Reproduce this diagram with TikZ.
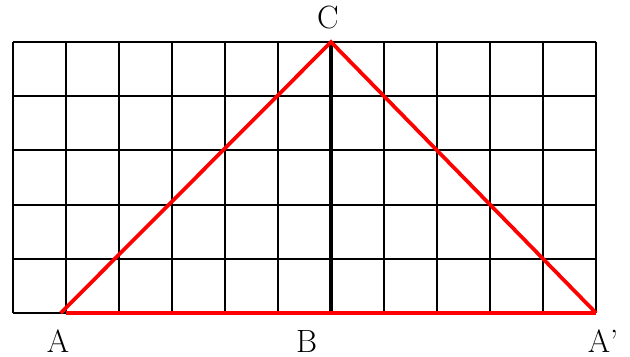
\documentclass[tikz,border=0pt]{standalone}
\usepackage{tikz}
\tikzset{
  gridline/.style={draw=black, line width=1pt},
  heightline/.style={draw=black, line width=2pt},
  sideline/.style={draw=red, line width=2pt},
  ptlabel/.style={font=\LARGE, inner sep=0pt},
}
\begin{document}
\begin{tikzpicture}[x=1cm, y=1.0226cm]

  \useasboundingbox (-0.245,-0.81) rectangle (11.64,5.775);

  % grid
  \foreach \i in {0,...,11} {\draw[gridline] (\i,0) -- (\i,5);}
  \foreach \j in {0,...,5} {\draw[gridline] (0,\j) -- (11,\j);}

  \coordinate (A)  at (0.9,0);
  \coordinate (A1) at (1,0);
  \coordinate (B)  at (6,0);
  \coordinate (C)  at (6,5);
  \coordinate (Ap) at (11,0);

  \draw[heightline] (B) -- (C);
  \draw[sideline] (A) -- (C) -- (Ap);
  \draw[sideline] (A1) -- (Ap);

  \node[ptlabel] (labA)  at (0.85,-0.52) {A};
  \node[ptlabel] (labB)  at (5.54,-0.52) {B};
  \node[ptlabel] (labAp) at (11.13,-0.52) {A'};
  \node[ptlabel] (labC)  at (5.94,5.45) {C};

\end{tikzpicture}
\end{document}
